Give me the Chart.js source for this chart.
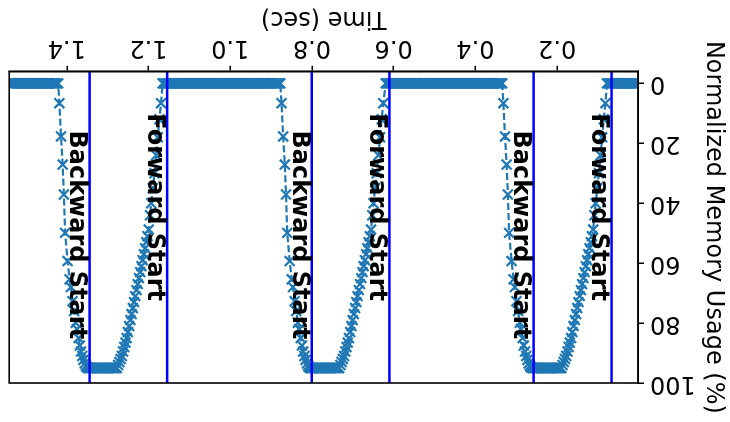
<!DOCTYPE html>
<html>
<head>
<meta charset="utf-8">
<script src="https://cdn.jsdelivr.net/npm/chart.js@4.4.1/dist/chart.umd.min.js"></script>
<style>
  html, body { margin: 0; padding: 0; background: #ffffff; }
  #wrap { width: 730px; height: 422px; transform: rotate(180deg); }
  canvas { display: block; }
</style>
</head>
<body>
<div id="wrap"><canvas id="memChart" width="730" height="422"></canvas></div>
<script>
// Memory profiler sampling interval (s)
const SAMPLE_STEP = 0.003;

// Visible time window (s)
const timeMin = 0.002;
const timeMax = 1.541;

// Start of each training iteration's forward and backward pass (s)
const forwardStarts = [0.0667, 0.6104, 1.1544];
const backwardStarts = [0.2575, 0.8005, 1.3442];

// Forward pass: time after forward start (s) and memory usage (%)
const forwardOffsets = [0.015, 0.019, 0.023, 0.027, 0.031, 0.035, 0.039, 0.042, 0.045,
  0.048, 0.051, 0.054, 0.057, 0.060, 0.063, 0.066, 0.069, 0.072, 0.075, 0.078,
  0.081, 0.084, 0.087, 0.090, 0.093, 0.096, 0.099, 0.102, 0.105, 0.108, 0.111,
  0.114, 0.117, 0.120, 0.123];
const forwardMemory = [6.6, 12, 18, 24, 30, 35, 40, 44, 48.8,
  51, 53, 55, 57, 59, 61, 63, 65, 67, 69, 71,
  73, 75, 77, 79, 81, 83, 85, 86.5, 88, 89.5, 91,
  92, 93, 94, 95];

// Backward pass: time after backward start (s) and memory usage (%)
const backwardOffsets = [0.003, 0.006, 0.009, 0.012, 0.015, 0.018, 0.021, 0.024, 0.027,
  0.031, 0.034, 0.038, 0.042, 0.046, 0.049, 0.054, 0.060, 0.063, 0.066, 0.070, 0.074];
const backwardMemory = [95, 94.8, 94.3, 93.5, 92.3, 91, 89.5, 87.5, 85,
  82, 79.9, 76, 72.7, 68, 65.4, 59.3, 49.9, 37.1, 27.1, 17.7, 6.6];

// Steady levels between passes (%)
const idleMemory = 0;
const peakMemory = 95;
const idleLead = 0.012;   // idle samples continue this long after forward start

// Axis ticks
const xTicks = [0.2, 0.4, 0.6, 0.8, 1.0, 1.2, 1.4];
const yTicks = [0, 20, 40, 60, 80, 100];
const yMin = -3.9;
const yMax = 100;

// Phase annotations and the memory level where each label begins
const phaseLabels = ['Forward Start', 'Backward Start'];
const labelStartMemory = [10, 15.7];

const BLUE = '#1f77b4';
const FONT = '"DejaVu Sans", "Liberation Sans", sans-serif';

// Assemble the sampled trace in time order
const points = [];
function hold(from, to, value) {
  for (let t = from; t < to - 1e-9; t += SAMPLE_STEP) {
    points.push({ x: +t.toFixed(4), y: value });
  }
}
let cursor = 0.003;
forwardStarts.forEach((f, i) => {
  const b = backwardStarts[i];
  hold(cursor, f + idleLead + 1e-6, idleMemory);
  forwardOffsets.forEach((o, k) => points.push({ x: f + o, y: forwardMemory[k] }));
  hold(f + forwardOffsets[forwardOffsets.length - 1] + SAMPLE_STEP, b + backwardOffsets[0], peakMemory);
  backwardOffsets.forEach((o, k) => points.push({ x: b + o, y: backwardMemory[k] }));
  cursor = b + backwardOffsets[backwardOffsets.length - 1] + SAMPLE_STEP;
});
hold(cursor, timeMax, idleMemory);

// Blue phase lines, rotated labels and the full plot frame
const phasePlugin = {
  id: 'phaseMarkers',
  afterDatasetsDraw(chart) {
    const { ctx, chartArea: a, scales: { x, y } } = chart;
    ctx.save();
    ctx.strokeStyle = '#0000ff';
    ctx.lineWidth = 2.5;
    [...forwardStarts, ...backwardStarts].forEach(t => {
      const px = x.getPixelForValue(t);
      ctx.beginPath();
      ctx.moveTo(px, a.top);
      ctx.lineTo(px, a.bottom);
      ctx.stroke();
    });

    ctx.fillStyle = '#000000';
    ctx.font = 'bold 24px ' + FONT;
    ctx.textAlign = 'left';
    ctx.textBaseline = 'top';
    const drawLabel = (text, t, level) => {
      ctx.save();
      ctx.translate(x.getPixelForValue(t) + 1, y.getPixelForValue(level));
      ctx.rotate(-Math.PI / 2);
      ctx.fillText(text, 0, 0);
      ctx.restore();
    };
    forwardStarts.forEach(t => drawLabel(phaseLabels[0], t, labelStartMemory[0]));
    backwardStarts.forEach(t => drawLabel(phaseLabels[1], t, labelStartMemory[1]));

    ctx.strokeStyle = '#000000';
    ctx.lineWidth = 1.6;
    ctx.strokeRect(a.left, a.top, a.right - a.left, a.bottom - a.top);
    ctx.restore();
  }
};

const tickFont = { family: FONT, size: 24 };

new Chart(document.getElementById('memChart'), {
  type: 'line',
  data: {
    datasets: [{
      data: points,
      borderColor: BLUE,
      backgroundColor: BLUE,
      borderWidth: 2.2,
      borderDash: [7, 3],
      pointStyle: 'crossRot',
      pointRadius: 7,
      pointHoverRadius: 7,
      pointBorderWidth: 2.2,
      pointBorderColor: BLUE,
      tension: 0,
      fill: false
    }]
  },
  options: {
    responsive: false,
    animation: false,
    devicePixelRatio: 1,
    events: [],
    layout: { padding: { top: 39, right: 3.3, left: 0, bottom: 0 } },
    plugins: { legend: { display: false }, tooltip: { enabled: false } },
    scales: {
      x: {
        type: 'linear',
        min: timeMin,
        max: timeMax,
        afterFit: s => { s.height = 71.7; },
        afterBuildTicks: s => { s.ticks = xTicks.map(v => ({ value: v })); },
        ticks: { font: tickFont, color: '#000', padding: 4, maxRotation: 0,
                 callback: v => Number(v).toFixed(1) },
        grid: { drawOnChartArea: false, drawTicks: true, tickLength: 6, color: '#000', lineWidth: 1.5 },
        border: { display: true, color: '#000', width: 1.6 },
        title: { display: true, text: 'Time (sec)', font: tickFont, color: '#000', padding: { top: 0, bottom: 4 } }
      },
      y: {
        type: 'linear',
        min: yMin,
        max: yMax,
        afterFit: s => { s.width = 92; },
        afterBuildTicks: s => { s.ticks = yTicks.map(v => ({ value: v })); },
        ticks: { font: tickFont, color: '#000', padding: 6, callback: v => String(v) },
        grid: { drawOnChartArea: false, drawTicks: true, tickLength: 6, color: '#000', lineWidth: 1.5 },
        border: { display: true, color: '#000', width: 1.6 },
        title: { display: true, text: 'Normalized Memory Usage (%)', font: tickFont, color: '#000', padding: { top: 2, bottom: 0 } }
      }
    }
  },
  plugins: [phasePlugin]
});
</script>
</body>
</html>
